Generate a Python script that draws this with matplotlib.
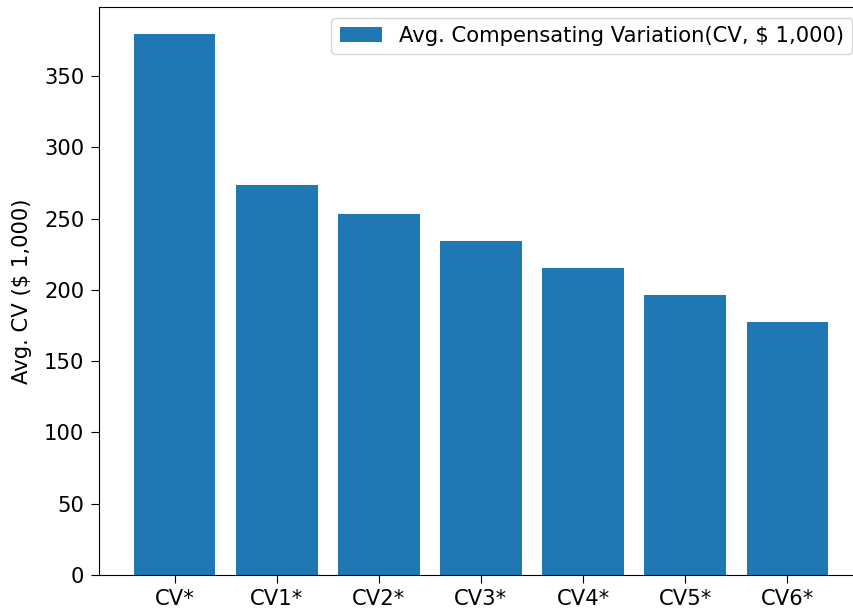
import numpy as np
import matplotlib.pyplot as plt

categories = ['CV*', 'CV1*', 'CV2*', 'CV3*', 'CV4*', 'CV5*', 'CV6*']
avg_cv = [379.4, 273.8, 253.5, 234.0, 215.0, 196.6, 177.1]

plt.rcParams['font.size'] = 15.2
plt.rcParams['xtick.major.size'] = 5.5
plt.rcParams['ytick.major.size'] = 5.5
plt.rcParams['xtick.major.pad'] = 4.5
plt.rcParams['ytick.major.pad'] = 5

fig = plt.figure(figsize=(8.54, 6.10), dpi=100)
# the reference is cropped at the right edge, so the axes run past the figure
ax = fig.add_axes([99 / 854, 35 / 610, 764 / 854, 568 / 610])

x = np.arange(len(categories))
ax.bar(x, avg_cv, width=0.8, color='#1f77b4',
       label='Avg. Compensating Variation(CV, $ 1,000)')

ax.set_xticks(x)
ax.set_xticklabels(categories)
ax.set_ylabel('Avg. CV ($ 1,000)', labelpad=9)
ax.spines['right'].set_visible(False)
ax.legend(loc='upper right')

plt.savefig('out.png', dpi=100)
